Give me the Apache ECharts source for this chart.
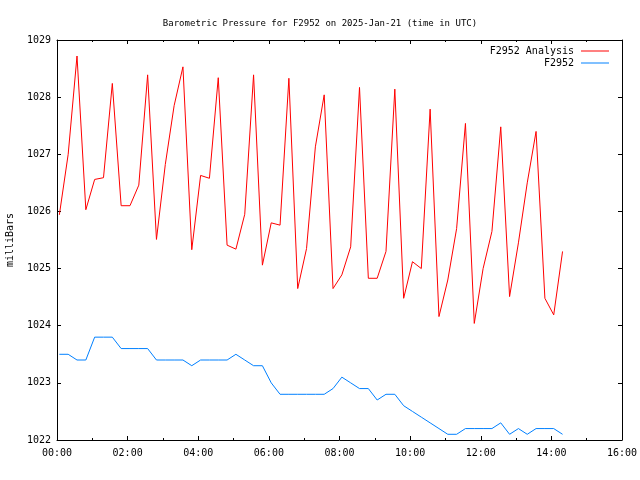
<!DOCTYPE html>
<html>
<head>
<meta charset="utf-8">
<script src="https://cdn.jsdelivr.net/npm/echarts@6/dist/echarts.min.js"></script>
<style>html,body{margin:0;padding:0;background:#fff}#c{width:640px;height:480px}</style>
</head>
<body>
<div id="c"></div>
<script>
var times = ["00:04","00:19","00:34","00:49","01:04","01:19","01:34","01:49","02:04","02:19","02:34","02:49",
  "03:04","03:19","03:34","03:49","04:04","04:19","04:34","04:49","05:04","05:19","05:34","05:49",
  "06:04","06:19","06:34","06:49","07:04","07:19","07:34","07:49","08:04","08:19","08:34","08:49",
  "09:04","09:19","09:34","09:49","10:04","10:19","10:34","10:49","11:04","11:19","11:34","11:49",
  "12:04","12:19","12:34","12:49","13:04","13:19","13:34","13:49","14:04","14:19"];
var analysis = [1025.94,1027.00,1028.72,1026.03,1026.56,1026.59,1028.24,1026.10,1026.10,1026.46,1028.39,1025.51,
  1026.82,1027.85,1028.53,1025.33,1026.63,1026.58,1028.34,1025.41,1025.34,1025.95,1028.39,1025.06,
  1025.80,1025.76,1028.33,1024.65,1025.35,1027.13,1028.04,1024.65,1024.89,1025.38,1028.17,1024.83,
  1024.83,1025.30,1028.14,1024.48,1025.12,1025.00,1027.79,1024.16,1024.80,1025.70,1027.54,1024.04,
  1025.00,1025.65,1027.48,1024.51,1025.45,1026.50,1027.40,1024.48,1024.19,1025.30];
var observed = [1023.5,1023.5,1023.4,1023.4,1023.8,1023.8,1023.8,1023.6,1023.6,1023.6,1023.6,1023.4,
  1023.4,1023.4,1023.4,1023.3,1023.4,1023.4,1023.4,1023.4,1023.5,1023.4,1023.3,1023.3,
  1023.0,1022.8,1022.8,1022.8,1022.8,1022.8,1022.8,1022.9,1023.1,1023.0,1022.9,1022.9,
  1022.7,1022.8,1022.8,1022.6,1022.5,1022.4,1022.3,1022.2,1022.1,1022.1,1022.2,1022.2,
  1022.2,1022.2,1022.3,1022.1,1022.2,1022.1,1022.2,1022.2,1022.2,1022.1];
var seriesNames = ["F2952 Analysis","F2952"];
var titleText = "Barometric Pressure for F2952 on 2025-Jan-21 (time in UTC)";

function toHours(s){var p=s.split(":");return +p[0]+(+p[1])/60;}
function pairs(vals){return times.map(function(t,i){return [toHours(t),vals[i]];});}
function pad(n){return (n<10?"0":"")+n;}

var FONT = "DejaVu Sans Mono";
var chart = echarts.init(document.getElementById('c'), null, {renderer:'canvas'});
function xAx(pos, labels){
  return {type:'value', position:pos, min:0, max:16, interval:2,
    axisLine:{show:true, onZero:false, lineStyle:{color:'#000', width:1}},
    axisTick:{show:true, inside:true, length:4, lineStyle:{color:'#000'}},
    minorTick:{show:true, splitNumber:2, length:2, lineStyle:{color:'#000'}},
    splitLine:{show:false}, minorSplitLine:{show:false},
    axisLabel:{show:labels, margin:8, color:'#000', fontFamily:FONT, fontSize:10,
      formatter:function(v){return pad(Math.round(v))+":00";}}};
}
function yAx(pos, labels){
  var a = {type:'value', position:pos, min:1022, max:1029, interval:1,
    axisLine:{show:true, onZero:false, lineStyle:{color:'#000', width:1}},
    axisTick:{show:true, inside:true, length:4, lineStyle:{color:'#000'}},
    splitLine:{show:false},
    axisLabel:{show:labels, margin:6, color:'#000', fontFamily:FONT, fontSize:10,
      formatter:function(v){return String(Math.round(v));}}};
  if (labels){
    a.name = 'milliBars'; a.nameLocation='middle'; a.nameGap=42; a.nameRotate=90;
    a.nameTextStyle = {color:'#000', fontFamily:FONT, fontSize:10};
  }
  return a;
}
chart.setOption({
  animation:false,
  backgroundColor:'#fff',
  title:{text:titleText, left:'center', top:14,
    textStyle:{color:'#000', fontFamily:FONT, fontSize:9, fontWeight:'normal'}},
  legend:{data:seriesNames, orient:'vertical', right:26, top:40, align:'right',
    icon:'rect', itemWidth:28, itemHeight:1, itemGap:0,
    textStyle:{color:'#000', fontFamily:FONT, fontSize:10, lineHeight:12, padding:[0,2,0,0]}},
  grid:{left:57, right:18, top:40, bottom:40, containLabel:false, outerBoundsMode:'none'},
  xAxis:[xAx('bottom', true), xAx('top', false)],
  yAxis:[yAx('left', true), yAx('right', false)],
  series:[
    {name:seriesNames[0], type:'line', xAxisIndex:0, yAxisIndex:0, data:pairs(analysis),
      showSymbol:false, symbol:'none', lineStyle:{color:'#ff0000', width:1}, itemStyle:{color:'#ff0000'}},
    {name:seriesNames[1], type:'line', xAxisIndex:0, yAxisIndex:0, data:pairs(observed),
      showSymbol:false, symbol:'none', lineStyle:{color:'#0080ff', width:1}, itemStyle:{color:'#0080ff'}}
  ]
});
</script>
</body>
</html>
